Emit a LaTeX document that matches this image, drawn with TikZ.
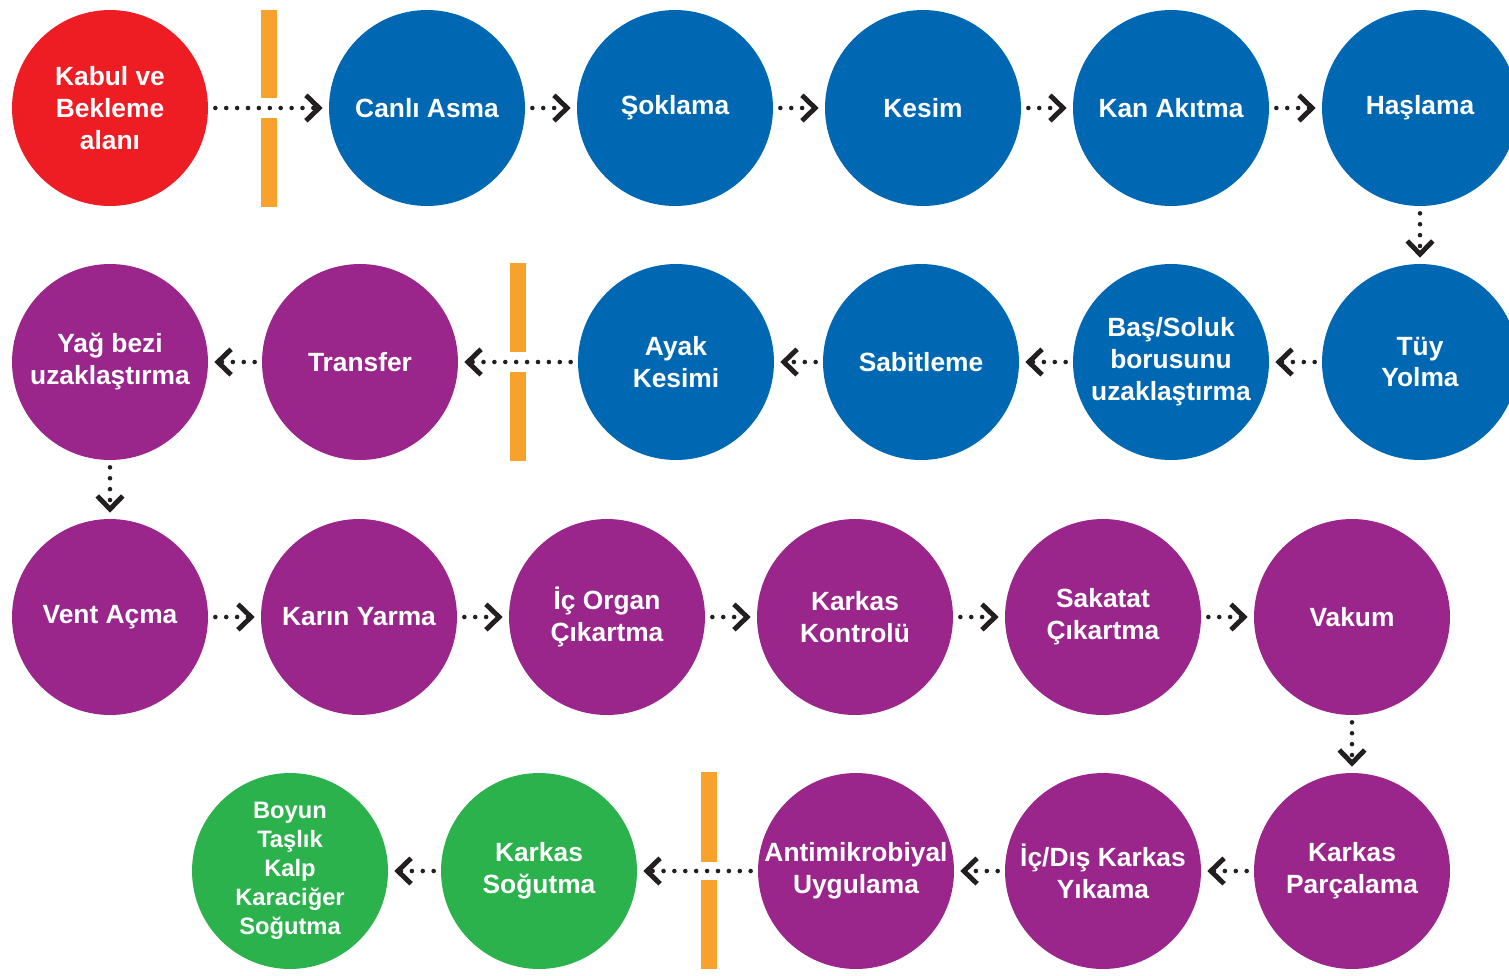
\documentclass[tikz,border=0pt]{standalone}
\usepackage{fontspec}
\setmainfont{Liberation Sans}
\usetikzlibrary{arrows.meta}
\definecolor{stred}{HTML}{EE1D23}
\definecolor{stblue}{HTML}{0068B3}
\definecolor{stpurple}{HTML}{9A268B}
\definecolor{stgreen}{HTML}{2BB24C}
\definecolor{stgold}{HTML}{F8A12D}
\definecolor{stink}{HTML}{231F20}

\begin{document}
\begin{tikzpicture}[
  x=0.02cm, y=-0.02cm,
  stage/.style      = {circle, minimum size=3.92cm, inner sep=0pt,
                       text=white, align=center,
                       font=\fontsize{15}{18.2}\selectfont\bfseries},
  redstage/.style   = {stage, fill=stred},
  bluestage/.style  = {stage, fill=stblue},
  purplestage/.style= {stage, fill=stpurple},
  greenstage/.style = {stage, fill=stgreen},
  flow/.style       = {draw=stink, line width=2.6pt, line cap=round,
                       dash pattern=on 0pt off 6.2pt,
                       shorten <=0.14cm, shorten >=0.12cm,
                       -{Straight Barb[length=7.5pt,width=14.5pt,line width=2.8pt]}},
  gate/.style       = {fill=stgold},
]
\clip (0,0) rectangle (1509,975);
\useasboundingbox (0,0) rectangle (1509,975);
% row 1
\node[redstage]  (a0) at (110,108)  {Kabul ve\\Bekleme\\alanı};
\node[bluestage] (a1) at (427,108)  {Canlı Asma};
\node[bluestage] (a2) at (675,108)  {Şoklama};
\node[bluestage] (a3) at (923,108)  {Kesim};
\node[bluestage] (a4) at (1171,108) {Kan Akıtma};
\node[bluestage] (a5) at (1420,108) {Haşlama};
% row 2
\node[purplestage] (b0) at (110,362)  {Yağ bezi\\uzaklaştırma};
\node[purplestage] (b1) at (360,362)  {Transfer};
\node[bluestage]   (b2) at (676,362)  {Ayak\\Kesimi};
\node[bluestage]   (b3) at (921,362)  {Sabitleme};
\node[bluestage]   (b4) at (1171,362) {Baş/Soluk\\borusunu\\uzaklaştırma};
\node[bluestage]   (b5) at (1420,362) {Tüy\\Yolma};
% row 3
\node[purplestage] (c0) at (110,617)  {Vent Açma};
\node[purplestage] (c1) at (359,617)  {Karın Yarma};
\node[purplestage] (c2) at (607,617)  {İç Organ\\Çıkartma};
\node[purplestage] (c3) at (855,617)  {Karkas\\Kontrolü};
\node[purplestage] (c4) at (1103,617) {Sakatat\\Çıkartma};
\node[purplestage] (c5) at (1352,617) {Vakum};
% row 4
\node[greenstage, font=\fontsize{13.5}{16.5}\selectfont\bfseries]
                   (d0) at (290,871)  {Boyun\\Taşlık\\Kalp\\Karaciğer\\Soğutma};
\node[greenstage]  (d1) at (539,871)  {Karkas\\Soğutma};
\node[purplestage] (d2) at (856,871)  {Antimikrobiyal\\Uygulama};
\node[purplestage] (d3) at (1103,871) {İç/Dış Karkas\\Yıkama};
\node[purplestage] (d4) at (1352,871) {Karkas\\Parçalama};
% gates
\fill[gate] (261,10) rectangle (277,98);
\fill[gate] (261,118) rectangle (277,207);
\fill[gate] (510,263) rectangle (526,352);
\fill[gate] (510,372) rectangle (526,461);
\fill[gate] (701,772) rectangle (717,862);
\fill[gate] (701,880) rectangle (717,969);
% flow
\draw[flow] (a0) -- (a1);
\draw[flow] (a1) -- (a2);
\draw[flow] (a2) -- (a3);
\draw[flow] (a3) -- (a4);
\draw[flow] (a4) -- (a5);
\draw[flow] (a5) -- (b5);
\draw[flow] (b5) -- (b4);
\draw[flow] (b4) -- (b3);
\draw[flow] (b3) -- (b2);
\draw[flow] (b2) -- (b1);
\draw[flow] (b1) -- (b0);
\draw[flow] (b0) -- (c0);
\draw[flow] (c0) -- (c1);
\draw[flow] (c1) -- (c2);
\draw[flow] (c2) -- (c3);
\draw[flow] (c3) -- (c4);
\draw[flow] (c4) -- (c5);
\draw[flow] (c5) -- (d4);
\draw[flow] (d4) -- (d3);
\draw[flow] (d3) -- (d2);
\draw[flow] (d2) -- (d1);
\draw[flow] (d1) -- (d0);
\end{tikzpicture}
\end{document}
